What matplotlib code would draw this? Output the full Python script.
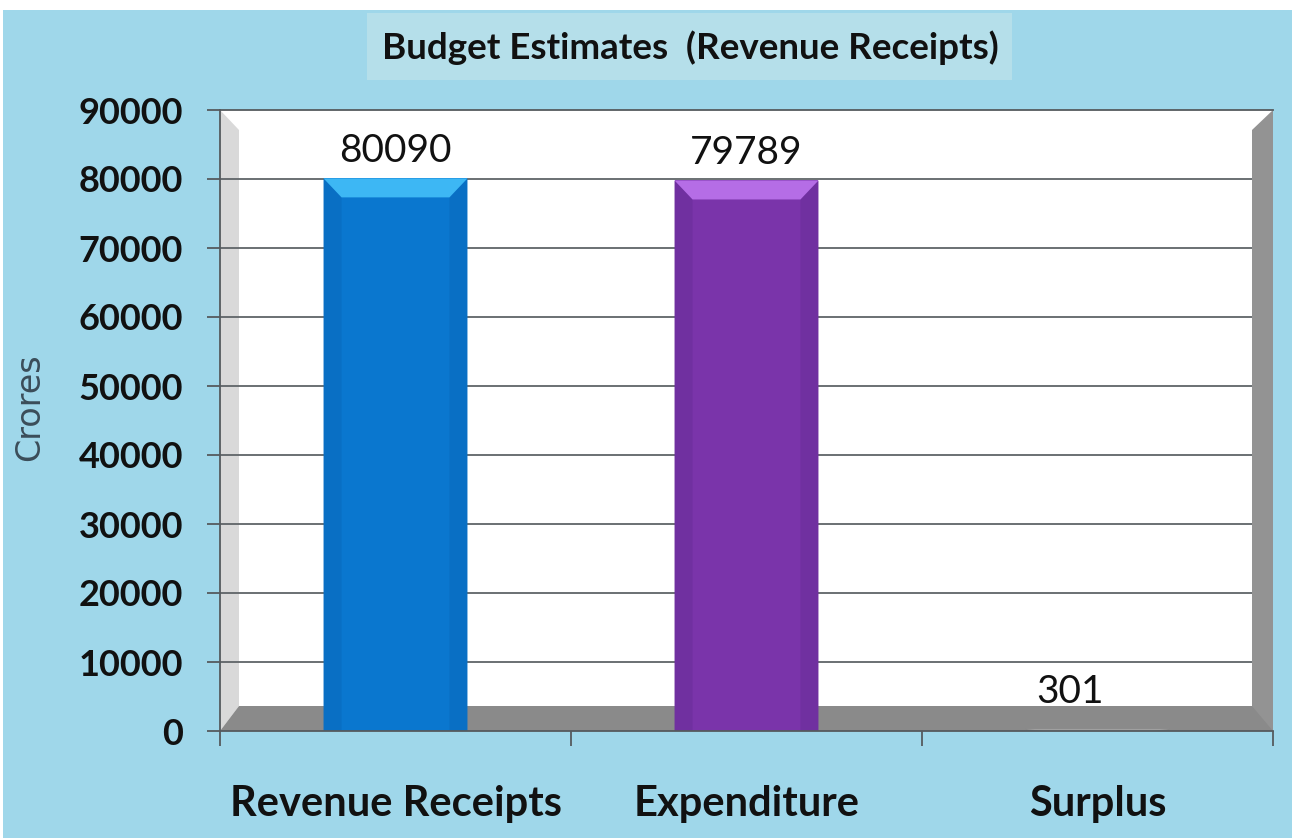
import matplotlib
matplotlib.use("Agg")
import matplotlib.pyplot as plt
from matplotlib.patches import Polygon, Rectangle

# ---- data ----
categories = ["Revenue Receipts", "Expenditure", "Surplus"]
values = [80090, 79789, 301]
value_labels = ["80090", "79789", "301"]
y_ticks = [0, 10000, 20000, 30000, 40000, 50000, 60000, 70000, 80000, 90000]
y_tick_labels = ["0", "10000", "20000", "30000", "40000", "50000", "60000", "70000", "80000", "90000"]
title = "Budget Estimates  (Revenue Receipts)"
y_label = "Crores"

# ---- styles ----
face_cols = ["#0a77cf", "#7a34aa", "#8e8e8e"]
top_cols = ["#3db7f4", "#b56de6", "#a0a0a0"]
side_cols = ["#096fc4", "#7030a0", "#888888"]
bg_blue = "#9fd7ea"
title_box = "#b5dfea"
W, H = 1292, 838
FONT = "Lato"

fig = plt.figure(figsize=(W / 100, H / 100), dpi=100, facecolor="white")

# blue background (small white margin top/left as in reference)
fig.patches.append(Rectangle((3 / W, 0), 1 - 3 / W, 1 - 10 / H, transform=fig.transFigure,
                             facecolor=bg_blue, edgecolor="none", zorder=-2))
# title box
fig.patches.append(Rectangle((367 / W, 1 - 80 / H), (1012 - 367) / W, (80 - 13) / H,
                             transform=fig.transFigure, facecolor=title_box,
                             edgecolor="none", zorder=-1))
fig.text(690 / W, 1 - 48 / H, title, ha="center", va="center", fontsize=26.5,
         fontfamily=FONT, fontweight="bold", color="#111111")
fig.text(30 / W, 1 - 407 / H, y_label, ha="center", va="center", rotation=90,
         fontsize=24, fontfamily="DejaVu Sans", fontweight="normal", color="#3b4d59")

ax_l, ax_r, ax_t, ax_b = 220, 1273, 110, 731
ax = fig.add_axes([ax_l / W, 1 - ax_b / H, (ax_r - ax_l) / W, (ax_b - ax_t) / H])
ax.set_zorder(1)
ax.set_facecolor("white")
ax.set_xlim(-0.5, len(categories) - 0.5)
ax.set_ylim(y_ticks[0], y_ticks[-1])

axw_px, axh_px = ax_r - ax_l, ax_b - ax_t
dx = (len(categories)) / axw_px          # data units per px (x)
dy = (y_ticks[-1] - y_ticks[0]) / axh_px  # data units per px (y)

# 3D walls in axes fraction
lw, rw, fh, sh = 19 / axw_px, 21 / axw_px, 25 / axh_px, 20 / axh_px
ax.add_patch(Polygon([(0, 0), (0, 1), (lw, 1 - sh), (lw, fh)], closed=True,
                     transform=ax.transAxes, facecolor="#d9d9d9", edgecolor="none", zorder=0.6))
ax.add_patch(Polygon([(0, 0), (lw, fh), (1, fh), (1, 0)], closed=True,
                     transform=ax.transAxes, facecolor="#8a8a8a", edgecolor="none", zorder=0.7))
for yv in y_ticks[1:-1]:
    ax.axhline(yv, xmin=0, xmax=1 - rw, color="#5f6468", lw=1.3, zorder=1)
ax.add_patch(Polygon([(1 - rw, fh), (1 - rw, 1 - sh), (1, 1), (1, 0)], closed=True,
                     transform=ax.transAxes, facecolor="#939393", edgecolor="none", zorder=1.5))

# bars
bw = 0.41
xs = list(range(len(categories)))
bars = ax.bar(xs, values, width=bw, color=face_cols, edgecolor="none", zorder=2)
bev_x, bev_y = 18 * dx, 19 * dy
for b, tc, sc in zip(bars, top_cols, side_cols):
    L, R, h = b.get_x(), b.get_x() + b.get_width(), b.get_height()
    t = min(bev_y, h)
    ax.add_patch(Polygon([(L, 0), (L, h), (L + bev_x, h - t), (L + bev_x, 0)],
                         facecolor=sc, edgecolor="none", zorder=2.1))
    ax.add_patch(Polygon([(R, 0), (R, h), (R - bev_x, h - t), (R - bev_x, 0)],
                         facecolor=sc, edgecolor="none", zorder=2.1))
    ax.add_patch(Polygon([(L, h), (R, h), (R - bev_x, h - t), (L + bev_x, h - t)],
                         facecolor=tc, edgecolor="none", zorder=2.2))

# value labels
offsets = [(0, 12), (0, 12), (-20, 19)]
for x, v, lab, off in zip(xs, values, value_labels, offsets):
    ax.annotate(lab, (x, v), xytext=off, textcoords="offset points", ha="center",
                va="baseline", fontsize=28, fontfamily=FONT, color="#111111", zorder=3)

# axes styling
ax.spines["right"].set_visible(False)
for s in ["left", "bottom", "top"]:
    ax.spines[s].set_color("#555a5e")
    ax.spines[s].set_linewidth(1.3)
    ax.spines[s].set_zorder(2.5)

ax.set_yticks(y_ticks)
ax.set_yticklabels(y_tick_labels, fontsize=26, fontfamily=FONT, fontweight="bold", color="#111111")
ax.tick_params(axis="y", length=9.5, width=1.3, color="#555a5e", pad=17)

ax.set_xticks([x - 0.5 for x in xs] + [xs[-1] + 0.5])
ax.set_xticklabels([])
ax.tick_params(axis="x", which="major", length=11, width=1.3, color="#555a5e")
ax.set_xticks(xs, minor=True)
ax.set_xticklabels(categories, minor=True, fontsize=30, fontfamily=FONT,
                   fontweight="bold", color="#111111")
ax.tick_params(axis="x", which="minor", length=0, pad=39)

fig.savefig("out.png", dpi=100, facecolor="white")
